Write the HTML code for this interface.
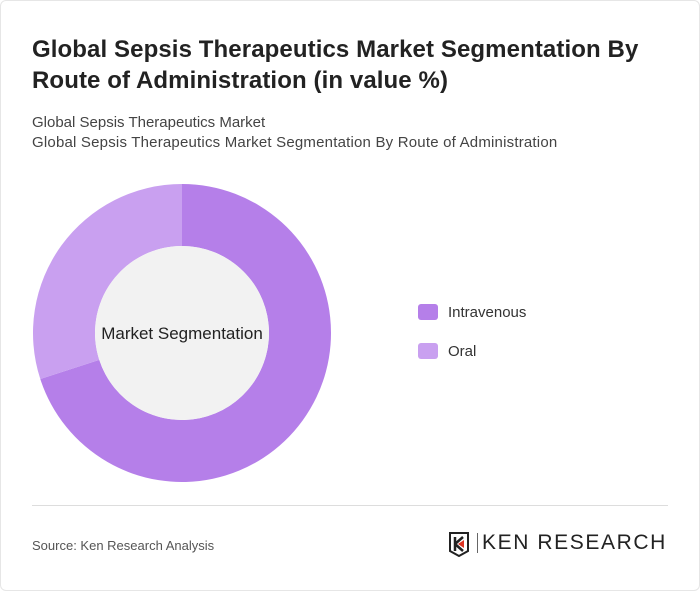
<!DOCTYPE html>
<html><head><meta charset="utf-8"><style>
body{margin:0;width:700px;height:591px;background:#fff;font-family:"Liberation Sans",sans-serif;position:relative;overflow:hidden}
.card{position:absolute;left:0;top:0;width:698px;height:589px;border:1px solid #e6e6e6;border-radius:6px}
h1{position:absolute;left:32px;top:34px;margin:0;font-size:24px;line-height:31px;font-weight:bold;color:#222;width:650px;letter-spacing:0.1px}
.sub{position:absolute;left:32px;font-size:15px;color:#444}
.leg{position:absolute;left:418px;font-size:15px;color:#333}
.sw{display:inline-block;width:20px;height:16px;border-radius:3px;vertical-align:-3px;margin-right:10px}
</style></head><body>
<div class="card"></div>
<h1>Global Sepsis Therapeutics Market Segmentation By Route of Administration (in value %)</h1>
<div class="sub" style="top:114px">Global Sepsis Therapeutics Market</div>
<div class="sub" style="top:134px;letter-spacing:0.2px">Global Sepsis Therapeutics Market Segmentation By Route of Administration</div>
<svg id="donut" width="700" height="591" style="position:absolute;left:0;top:0"></svg>
<div class="leg" style="top:304px"><span class="sw" style="background:#b57fe9"></span>Intravenous</div>
<div class="leg" style="top:343px"><span class="sw" style="background:#c9a0f0"></span>Oral</div>
<div style="position:absolute;left:32px;top:505px;width:636px;height:1px;background:#ddd"></div>
<div class="sub" style="top:538px;font-size:13px;color:#555">Source: Ken Research Analysis</div>
<div style="position:absolute;left:448px;top:531px">
<svg width="24" height="26" style="position:absolute;left:0;top:0"><path d="M2 2H20V20L11 25L2 20Z" fill="none" stroke="#222" stroke-width="2"/><path d="M7 6V20M7 13L15 6M7 13L15 20" stroke="#222" stroke-width="2.5" fill="none"/><path d="M10 13L16 9V17Z" fill="#d32"/></svg>
<div style="position:absolute;left:29px;top:2px;width:1px;height:20px;background:#666"></div>
<div style="position:absolute;left:34px;top:0;font-size:21px;letter-spacing:1.6px;color:#222;white-space:nowrap;line-height:24px">KEN RESEARCH</div>
</div>
<script>
const categories=["Intravenous","Oral"];
const values=[70,30];
const colors=["#b57fe9","#c9a0f0"];
const svg=document.getElementById('donut');
const NS="http://www.w3.org/2000/svg";
const cx=182,cy=333,R=149,r=87;
const total=values.reduce((a,b)=>a+b,0);
function pt(rad,a){return [cx+rad*Math.sin(a),cy-rad*Math.cos(a)];}
let a0=0;
values.forEach((v,i)=>{
 const a1=a0+v/total*2*Math.PI;
 const large=(a1-a0)>Math.PI?1:0;
 const [x0,y0]=pt(R,a0),[x1,y1]=pt(R,a1),[x2,y2]=pt(r,a1),[x3,y3]=pt(r,a0);
 const p=document.createElementNS(NS,'path');
 p.setAttribute('d',`M${x0} ${y0}A${R} ${R} 0 ${large} 1 ${x1} ${y1}L${x2} ${y2}A${r} ${r} 0 ${large} 0 ${x3} ${y3}Z`);
 p.setAttribute('fill',colors[i]);
 
 
 svg.appendChild(p);
 a0=a1;
});
const c=document.createElementNS(NS,'circle');
c.setAttribute('cx',cx);c.setAttribute('cy',cy);c.setAttribute('r',r);c.setAttribute('fill','#f2f2f2');


svg.appendChild(c);
const t=document.createElementNS(NS,'text');
t.setAttribute('x',cx);t.setAttribute('y',cy+6);t.setAttribute('text-anchor','middle');
t.setAttribute('font-size','17');t.setAttribute('fill','#222');t.setAttribute('font-family','Liberation Sans, sans-serif');
t.textContent='Market Segmentation';


svg.appendChild(t);
</script>
</body></html>
